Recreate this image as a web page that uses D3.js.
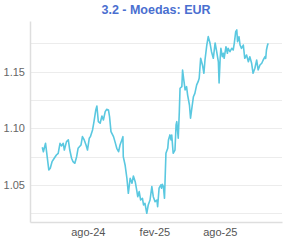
<!DOCTYPE html>
<html>
<head>
<meta charset="utf-8">
<script src="https://cdn.jsdelivr.net/npm/d3@7"></script>
<style>
  html, body { margin: 0; padding: 0; background: #fff; }
  svg { display: block; font-family: "Liberation Sans", Arial, sans-serif; }
</style>
</head>
<body>
<div id="chart"></div>
<script>
const title = "3.2 - Moedas: EUR";

// dates / values
const dates = [
  "2024-03-28","2024-03-31","2024-04-06","2024-04-15","2024-04-19","2024-04-24","2024-04-30","2024-05-06",
  "2024-05-11","2024-05-16","2024-05-20","2024-05-25","2024-05-28","2024-06-03","2024-06-08","2024-06-12",
  "2024-06-17","2024-06-21","2024-06-26","2024-07-01","2024-07-05","2024-07-13","2024-07-17","2024-07-22",
  "2024-07-27","2024-07-31","2024-08-05","2024-08-08","2024-08-14","2024-08-18","2024-08-23","2024-08-26",
  "2024-08-30","2024-09-04","2024-09-09","2024-09-13","2024-09-18","2024-09-22","2024-09-27","2024-09-30",
  "2024-10-04","2024-10-11","2024-10-15","2024-10-20","2024-10-25","2024-10-29","2024-11-03","2024-11-06",
  "2024-11-07","2024-11-12","2024-11-17","2024-11-21","2024-11-26","2024-12-01","2024-12-05","2024-12-10",
  "2024-12-14","2024-12-17","2024-12-21","2024-12-25","2024-12-30","2025-01-02","2025-01-06","2025-01-11",
  "2025-01-15","2025-01-20","2025-01-25","2025-01-29","2025-02-03","2025-02-08","2025-02-10","2025-02-14",
  "2025-02-19","2025-02-21","2025-02-23","2025-02-26","2025-03-01","2025-03-05","2025-03-10","2025-03-12",
  "2025-03-16","2025-03-19","2025-03-21","2025-03-25","2025-03-30","2025-04-02","2025-04-04","2025-04-08",
  "2025-04-11","2025-04-13","2025-04-18","2025-04-20","2025-04-24","2025-04-27","2025-05-01","2025-05-04",
  "2025-05-09","2025-05-12","2025-05-15","2025-05-20","2025-05-24","2025-05-29","2025-06-02","2025-06-05",
  "2025-06-09","2025-06-14","2025-06-18","2025-06-21","2025-06-26","2025-06-30","2025-07-05","2025-07-09",
  "2025-07-14","2025-07-19","2025-07-23","2025-07-28","2025-07-30","2025-08-02","2025-08-04","2025-08-08",
  "2025-08-11","2025-08-13","2025-08-18","2025-08-22","2025-08-24","2025-08-29","2025-09-03","2025-09-07",
  "2025-09-10","2025-09-14","2025-09-17","2025-09-19","2025-09-23","2025-09-26","2025-09-30","2025-10-05",
  "2025-10-09","2025-10-14","2025-10-19","2025-10-23","2025-10-28","2025-11-01","2025-11-06","2025-11-11",
  "2025-11-15","2025-11-20","2025-11-25","2025-11-29","2025-12-04","2025-12-06","2025-12-08","2025-12-11",
  "2025-12-13"
];
const values = [
  1.0833,1.0794,1.0868,1.0633,1.0648,1.0706,1.0736,1.0765,
  1.0780,1.0868,1.0845,1.0868,1.0809,1.0883,1.0898,1.0809,
  1.0736,1.0706,1.0692,1.0750,1.0824,1.0853,1.0927,1.0898,
  1.0853,1.0809,1.0913,1.0927,1.0986,1.1059,1.1162,1.1197,
  1.1059,1.1045,1.1109,1.1074,1.1147,1.1168,1.1162,1.1103,
  1.0971,1.0927,1.0883,1.0824,1.0794,1.0853,1.0898,1.0927,
  1.0750,1.0677,1.0560,1.0427,1.0560,1.0516,1.0580,1.0530,
  1.0457,1.0397,1.0442,1.0368,1.0383,1.0324,1.0339,1.0251,
  1.0324,1.0368,1.0486,1.0397,1.0353,1.0368,1.0309,1.0472,
  1.0501,1.0472,1.0507,1.0486,1.0383,1.0780,1.0824,1.0898,
  1.0942,1.0898,1.0942,1.0780,1.0809,1.1030,1.1059,1.0913,
  1.1147,1.1354,1.1368,1.1515,1.1412,1.1339,1.1368,1.1294,
  1.1206,1.1089,1.1162,1.1279,1.1309,1.1383,1.1412,1.1442,
  1.1618,1.1559,1.1486,1.1603,1.1735,1.1809,1.1750,1.1676,
  1.1618,1.1753,1.1683,1.1586,1.1400,1.1618,1.1706,1.1632,
  1.1662,1.1618,1.1720,1.1662,1.1706,1.1676,1.1706,1.1691,
  1.1750,1.1853,1.1868,1.1765,1.1809,1.1735,1.1706,1.1735,
  1.1618,1.1647,1.1588,1.1632,1.1574,1.1486,1.1530,1.1603,
  1.1515,1.1559,1.1574,1.1603,1.1632,1.1618,1.1691,1.1735,
  1.1750
];
const yTicks = [1.05, 1.10, 1.15];
const yGrid = [1.025, 1.05, 1.075, 1.10, 1.125, 1.15, 1.175];
const xTicks = ["2024-08-01", "2025-02-01", "2025-08-01"];
const xTickLabels = ["ago-24", "fev-25", "ago-25"];
const xDomain = ["2024-02-23", "2026-01-20"];
const yDomain = [1.0174, 1.1947];

const W = 285, H = 243;
const margin = { top: 21, right: 3, bottom: 21, left: 30 };
const parse = d3.timeParse("%Y-%m-%d");
const data = dates.map((d, i) => ({ date: parse(d), value: values[i] }));

const svg = d3.select("#chart").append("svg")
  .attr("width", W).attr("height", H);

const x = d3.scaleTime()
  .domain(xDomain.map(parse))
  .range([margin.left, W - margin.right]);

const y = d3.scaleLinear()
  .domain(yDomain)
  .range([H - margin.bottom, margin.top]);

// gridlines
svg.append("g")
  .selectAll("line")
  .data(yGrid)
  .join("line")
  .attr("x1", margin.left)
  .attr("x2", W - margin.right)
  .attr("y1", (d) => Math.round(y(d)) + 0.5)
  .attr("y2", (d) => Math.round(y(d)) + 0.5)
  .attr("stroke", "#ececec")
  .attr("stroke-width", 1);

// y axis
const yAxis = svg.append("g")
  .attr("transform", `translate(${margin.left},0)`)
  .call(d3.axisLeft(y).tickValues(yTicks).tickSize(0).tickPadding(5).tickFormat(d3.format(".2f")));
yAxis.select(".domain").attr("stroke", "#dedede").attr("stroke-width", 1.5);
yAxis.selectAll("text").attr("fill", "#666").style("font-size", "11px");

// x axis
const xAxis = svg.append("g")
  .attr("transform", `translate(0,${H - margin.bottom})`)
  .call(d3.axisBottom(x)
    .tickValues(xTicks.map(parse))
    .tickSize(0)
    .tickPadding(6)
    .tickFormat((d, i) => xTickLabels[i]));
xAxis.select(".domain").attr("stroke", "#dedede").attr("stroke-width", 1.5);
xAxis.selectAll("text").attr("fill", "#555").style("font-size", "11px");

// line
const line = d3.line()
  .x((d) => x(d.date))
  .y((d) => y(d.value));

svg.append("path")
  .datum(data)
  .attr("fill", "none")
  .attr("stroke", "#5ac8e0")
  .attr("stroke-width", 1.6)
  .attr("stroke-linejoin", "round")
  .attr("d", line);

// title
svg.append("text")
  .attr("x", (margin.left + W - margin.right) / 2)
  .attr("y", 14)
  .attr("text-anchor", "middle")
  .attr("fill", "#4a6fd0")
  .style("font-size", "12.5px")
  .style("font-weight", "bold")
  .text(title);
</script>
</body>
</html>
